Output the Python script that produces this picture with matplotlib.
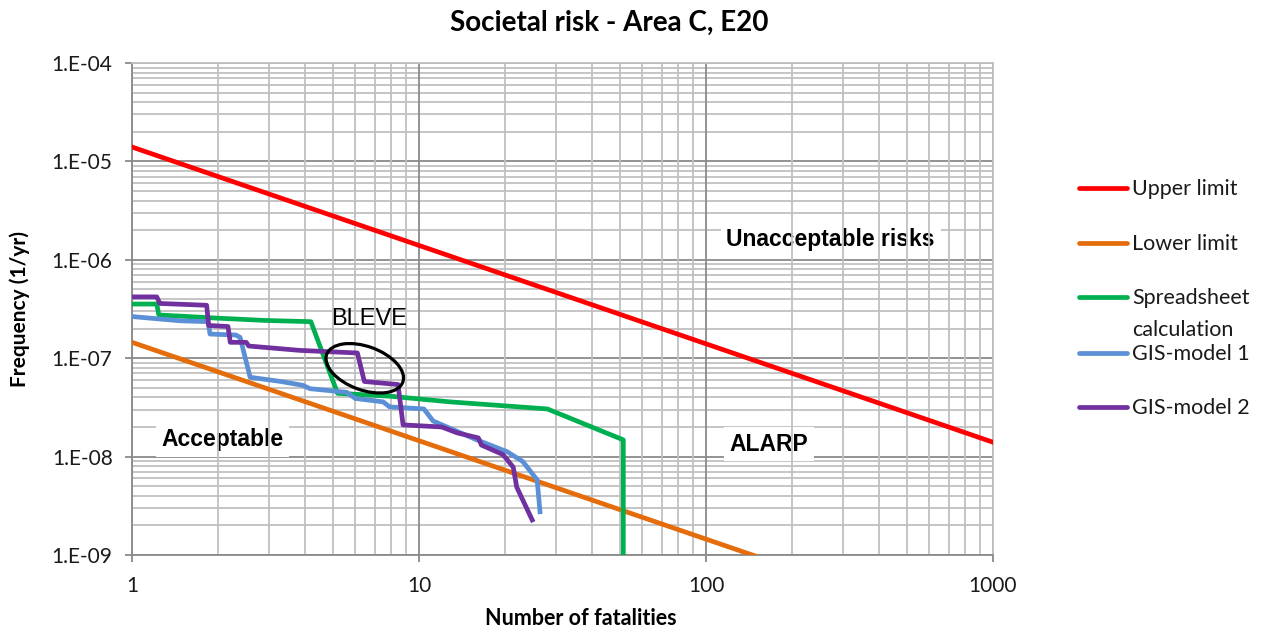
import numpy as np
import matplotlib
matplotlib.use("Agg")
import matplotlib.pyplot as plt
from matplotlib.lines import Line2D
from matplotlib.patches import Ellipse
from matplotlib.ticker import LogLocator, FixedLocator, FuncFormatter, NullFormatter
from matplotlib.transforms import ScaledTranslation

# F-N curves, number of fatalities vs. cumulative frequency (1/yr)
upper_n = [1, 1000]
upper_f = [1.4e-5, 1.4e-8]

lower_n = [1, 1000]
lower_f = [1.45e-7, 1.45e-10]

sheet_n = [1, 1.22, 1.24, 2.0, 2.9, 4.2, 5.2, 8.0, 12.8, 28.0, 51.5, 51.5]
sheet_f = [3.55e-7, 3.55e-7, 2.75e-7, 2.55e-7, 2.42e-7, 2.35e-7, 4.4e-8, 4.1e-8,
           3.6e-8, 3.05e-8, 1.48e-8, 1e-9]

gis1_n = [1, 1.47, 1.84, 1.87, 2.3, 2.38, 2.58, 3.3, 3.94, 4.17, 5.6, 6.0, 7.5, 7.9,
          10.4, 11.2, 15.9, 20.3, 23.0, 25.8, 26.4]
gis1_f = [2.65e-7, 2.4e-7, 2.35e-7, 1.76e-7, 1.72e-7, 1.63e-7, 6.4e-8, 5.8e-8, 5.3e-8,
          4.9e-8, 4.5e-8, 3.9e-8, 3.6e-8, 3.2e-8, 3.05e-8, 2.3e-8, 1.48e-8, 1.12e-8,
          8.9e-9, 5.8e-9, 2.75e-9]

gis2_n = [1, 1.22, 1.25, 1.82, 1.85, 2.16, 2.2, 2.5, 2.55, 3.85, 6.1, 6.45, 8.45, 8.8,
          12.0, 13.6, 16.1, 16.5, 19.6, 21.3, 21.9, 24.8]
gis2_f = [4.2e-7, 4.2e-7, 3.6e-7, 3.45e-7, 2.15e-7, 2.1e-7, 1.45e-7, 1.45e-7, 1.33e-7,
          1.2e-7, 1.13e-7, 5.8e-8, 5.4e-8, 2.1e-8, 2.0e-8, 1.74e-8, 1.55e-8, 1.31e-8,
          1.05e-8, 7.8e-9, 4.9e-9, 2.27e-9]

x_ticks = [1, 10, 100, 1000]
y_ticks = [1e-9, 1e-8, 1e-7, 1e-6, 1e-5, 1e-4]

series = [
    ("Upper limit", upper_n, upper_f, "#FF0000"),
    ("Lower limit", lower_n, lower_f, "#E46C0A"),
    ("Spreadsheet\ncalculation", sheet_n, sheet_f, "#00B050"),
    ("GIS-model 1", gis1_n, gis1_f, "#5B8FD6"),
    ("GIS-model 2", gis2_n, gis2_f, "#7030A0"),
]

calibri_like = ["Lato", "DejaVu Sans"]
arial_like = ["Liberation Sans", "DejaVu Sans"]
W, H = 1270, 631

fig = plt.figure(figsize=(12.7, 6.31), dpi=100)
ax = fig.add_axes([132 / W, 76 / H, 861 / W, 492 / H])
ax.set_xscale("log")
ax.set_yscale("log")
ax.set_xlim(1, 1000)
ax.set_ylim(1e-9, 1e-4)

for label, n, f, col in series:
    ax.plot(n, f, color=col, lw=3.4, solid_joinstyle="round", zorder=3)

# grid: horizontal lines under the text boxes, vertical lines above them
ax.xaxis.set_major_locator(FixedLocator(x_ticks))
ax.yaxis.set_major_locator(FixedLocator(y_ticks))
sub = np.arange(2, 10)
ax.xaxis.set_minor_locator(LogLocator(base=10, subs=sub, numticks=100))
ax.yaxis.set_minor_locator(LogLocator(base=10, subs=sub, numticks=100))
ax.xaxis.set_minor_formatter(NullFormatter())
ax.yaxis.set_minor_formatter(NullFormatter())
ax.grid(which="major", color="#8A8A8A", lw=1.3)
ax.grid(which="minor", color="#C0C0C0", lw=1.3)
ax.yaxis.set_zorder(0.5)
ax.xaxis.set_zorder(1.5)

ax.xaxis.set_major_formatter(FuncFormatter(lambda v, _: f"{v:g}"))
ax.yaxis.set_major_formatter(
    FuncFormatter(lambda v, _: "1.E-%02d" % int(round(-np.log10(v)))))
ax.tick_params(which="major", direction="out", length=5, width=1.3,
               color="#8A8A8A", labelsize=15, labelcolor="#1a1a1a")
ax.tick_params(axis="x", which="major", pad=10)
ax.tick_params(axis="y", which="major", pad=9)
ax.tick_params(which="minor", length=0)
for lab in ax.get_xticklabels() + ax.get_yticklabels():
    lab.set_family(calibri_like)

for side in ["left", "bottom"]:
    ax.spines[side].set_color("#8A8A8A")
    ax.spines[side].set_linewidth(1.3)
for side in ["top", "right"]:
    ax.spines[side].set_color("#C0C0C0")
    ax.spines[side].set_linewidth(1.3)

ax.set_xlabel("Number of fatalities", family=calibri_like, fontweight="bold",
              fontsize=15.5)
ax.xaxis.set_label_coords(0.521, -0.108)
ax.set_ylabel("Frequency (1/yr)", family=calibri_like, fontweight="bold",
              fontsize=15)
ax.yaxis.set_label_coords(-0.119, 0.5)

fig.text(609 / W, 1 - 23 / H, "Societal risk - Area C, E20", family=calibri_like,
         fontweight="bold", fontsize=20, ha="center", va="center")

# region labels
box = dict(boxstyle="square,pad=0.25", fc="white", ec="none")
ax.text(272, 1.59e-6, "Unacceptable risks", family=arial_like, fontweight="bold",
        fontsize=16.5, ha="center", va="center", bbox=box, zorder=1)
ax.text(166, 1.34e-8, "ALARP", family=arial_like, fontweight="bold",
        fontsize=16.5, ha="center", va="center", bbox=box, zorder=1)
ax.text(2.07, 1.48e-8, "Acceptable", family=arial_like, fontweight="bold",
        fontsize=16.5, ha="center", va="center", bbox=box, zorder=1)

# BLEVE marker
ax.text(6.69, 2.5e-7, "BLEVE", family=arial_like, fontsize=17, ha="center",
        va="center", zorder=5)
ring = Ellipse((0, 0), 0.81, 0.436, angle=-20, fill=False, ec="black", lw=2.3,
               transform=fig.dpi_scale_trans + ScaledTranslation(6.47, 7.9e-8, ax.transData),
               zorder=5)
ax.add_patch(ring)

# legend on the right
row_y = [188, 243, 297, 353, 407]
for (label, n, f, col), y in zip(series, row_y):
    fig.add_artist(Line2D([1079 / W, 1127 / W], [1 - y / H, 1 - y / H],
                          color=col, lw=3.4, solid_capstyle="round"))
    fig.text(1132 / W, 1 - (y - 9) / H, label, family=calibri_like, fontsize=15.5,
             ha="left", va="top", linespacing=1.75, color="#1a1a1a")

fig.savefig("out.png", dpi=100)
